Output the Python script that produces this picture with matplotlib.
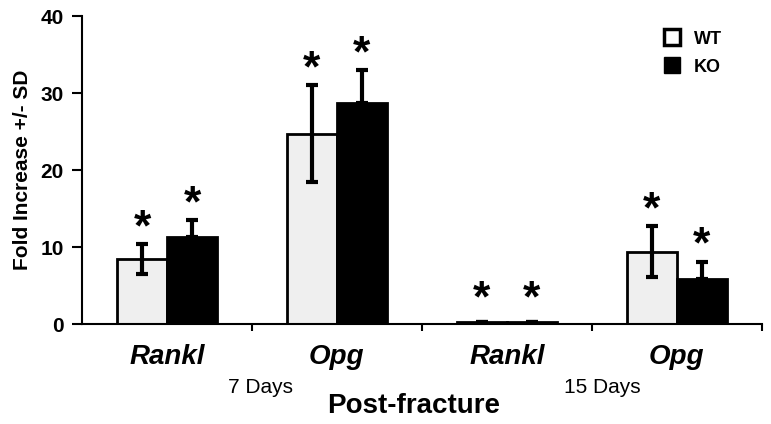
import numpy as np
import matplotlib
matplotlib.use('Agg')
from matplotlib import pyplot as plt
from matplotlib.lines import Line2D

plt.rcParams['font.family'] = ['Liberation Sans', 'DejaVu Sans']

genes = ['Rankl', 'Opg', 'Rankl', 'Opg']
wt_mean = [8.4, 24.7, 0.2, 9.4]
wt_sd = [1.95, 6.3, 0.0, 3.3]
ko_mean = [11.3, 28.7, 0.2, 5.8]
ko_sd = [2.2, 4.3, 0.0, 2.3]
timepoints = ['7 Days', '15 Days']

fig = plt.figure(figsize=(7.71, 4.24), dpi=100)
ax = fig.add_axes([0.1064, 0.2358, 0.8816, 0.7264])

x = np.arange(len(genes))
w = 0.294
ekw = dict(elinewidth=3, capsize=4, capthick=3, ecolor='black')
ax.bar(x - w/2, wt_mean, w, color='#efefef', edgecolor='black', linewidth=2,
       yerr=[wt_sd, wt_sd], error_kw=ekw, zorder=2)
ax.bar(x + w/2, ko_mean, w, color='black', edgecolor='black', linewidth=2,
       yerr=[[0]*4, ko_sd], error_kw=ekw, zorder=2)

# significance stars
for i in range(len(genes)):
    for off, m, s in [(-w/2, wt_mean[i], wt_sd[i]), (w/2, ko_mean[i], ko_sd[i])]:
        top = m + s if s > 0 else m + 1.0
        ax.text(i + off, top + 0.5, '*', ha='center', va='baseline',
                fontsize=32, fontweight='bold')

ax.set_xlim(-0.5, 3.5)
ax.set_ylim(0, 40)
ax.set_yticks([0, 10, 20, 30, 40])
ax.tick_params(axis='y', labelsize=15, width=1.5, length=7, pad=6, direction='out')
for lab in ax.get_yticklabels():
    lab.set_fontweight('bold')

ax.set_xticks([0.5, 1.5, 2.5, 3.5])
ax.set_xticklabels([])
ax.tick_params(axis='x', width=1.5, length=5, direction='out')
for i, g in enumerate(genes):
    ax.text(i, -2.6, g, ha='center', va='top', fontsize=20, fontweight='bold',
            fontstyle='italic')

ax.text(0.55, -7.0, timepoints[0], ha='center', va='top', fontsize=15)
ax.text(2.56, -7.0, timepoints[1], ha='center', va='top', fontsize=15)
ax.text(1.45, -8.9, 'Post-fracture', ha='center', va='top', fontsize=20,
        fontweight='bold')

ax.set_ylabel('Fold Increase +/- SD', fontsize=15, fontweight='bold', labelpad=6)

for side in ['top', 'right']:
    ax.spines[side].set_visible(False)
for side in ['left', 'bottom']:
    ax.spines[side].set_linewidth(1.5)

handles = [Line2D([], [], marker='s', linestyle='none', markersize=11,
                  markerfacecolor='white', markeredgecolor='black', markeredgewidth=2.5),
           Line2D([], [], marker='s', linestyle='none', markersize=11,
                  markerfacecolor='black', markeredgecolor='black')]
ax.legend(handles, ['WT', 'KO'], loc='upper right', bbox_to_anchor=(0.965, 1.005),
          frameon=False, prop={'weight': 'bold', 'size': 13},
          handletextpad=0.2, labelspacing=0.6)

fig.savefig('out.png', dpi=100)
